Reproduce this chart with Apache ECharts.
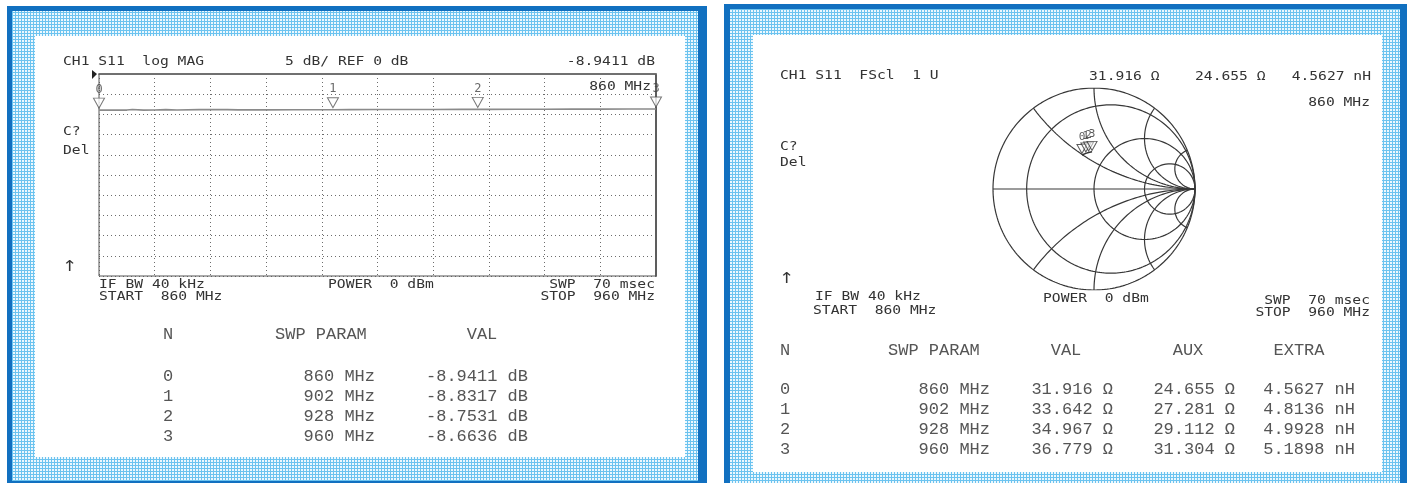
<!DOCTYPE html>
<html>
<head>
<meta charset="utf-8">
<script src="https://cdn.jsdelivr.net/npm/echarts@6/dist/echarts.min.js"></script>
<style>
html, body { margin: 0; padding: 0; background: #fff; }
#c { width: 1408px; height: 483px; }
</style>
</head>
<body>
<div id="c"></div>
<script>
// ---- measured data -------------------------------------------------------
// log MAG trace, S11 in dB across the sweep (MHz)
const traceFreq = [860, 865, 866, 868, 870, 872, 874, 878, 880, 883, 885, 890, 895, 900, 902, 905, 910, 915, 920, 925, 928, 930, 935, 940, 945, 950, 955, 960];
const traceDb   = [-8.9411, -8.93, -8.80, -8.93, -8.92, -8.82, -8.91, -8.82, -8.80, -8.82, -8.89, -8.87, -8.85, -8.84, -8.8317, -8.82, -8.80, -8.79, -8.78, -8.76, -8.7531, -8.75, -8.73, -8.72, -8.70, -8.69, -8.68, -8.6636];

// marker table
const markerNo   = ['0', '1', '2', '3'];
const markerFreq = [860, 902, 928, 960];          // MHz
const markerDb   = [-8.9411, -8.8317, -8.7531, -8.6636];
const markerR    = [31.916, 33.642, 34.967, 36.779]; // ohm
const markerX    = [24.655, 27.281, 29.112, 31.304]; // ohm
const markerL    = [4.5627, 4.8136, 4.9928, 5.1898]; // nH

// Smith chart graticule (normalised resistance circles / reactance arcs)
const smithR = [0.2, 1, 3];
const smithX = [0.5, 1, 2, 5];
const Z0 = 50;

// ---- helpers -------------------------------------------------------------
function gamma(r, x) {
  const d = (r + 1) * (r + 1) + x * x;
  return [(r * r + x * x - 1) / d, 2 * x / d];
}
function rCircle(r) {
  const c = r / (1 + r), a = 1 / (1 + r), pts = [];
  for (let i = 0; i <= 240; i++) {
    const t = i / 240 * Math.PI * 2;
    pts.push([c + a * Math.cos(t), a * Math.sin(t)]);
  }
  return pts;
}
function xArc(x) {
  const pts = [];
  for (let i = 0; i < 240; i++) {
    const phi = i / 240 * Math.PI / 2;
    pts.push(gamma(Math.tan(phi), x));
  }
  pts.push([1, 0]);
  return pts;
}
function makeDots() {
  const c = document.createElement('canvas');
  c.width = 3; c.height = 3;
  const g = c.getContext('2d');
  g.fillStyle = '#6cc3ef'; g.fillRect(0, 0, 3, 3);
  g.fillStyle = '#ecf8fe'; g.fillRect(1, 1, 2, 2);
  return c;
}
const dots = { image: makeDots(), repeat: 'repeat' };

const SCREEN_FONT = '12px "DejaVu Sans Mono"';
const TABLE_FONT = '17px "Liberation Mono"';
const ARROW_FONT = '15px "DejaVu Sans"';
function scr(text, x, y, align, font) {
  return { type: 'text', x: x, y: y, scaleX: 1.22, z: 20, silent: true,
    style: { text: text, font: font || SCREEN_FONT, fill: '#333333', textAlign: align || 'left', textVerticalAlign: 'middle' } };
}
function tab(text, x, y, align) {
  return { type: 'text', x: x, y: y, z: 20, silent: true,
    style: { text: text, font: TABLE_FONT, fill: '#555555', textAlign: align || 'left', textVerticalAlign: 'middle' } };
}
function rect(x, y, w, h, fill, z) {
  return { type: 'rect', shape: { x: x, y: y, width: w, height: h }, style: { fill: fill }, z: z, silent: true };
}

// ---- graphic layer: frames, annotations and tables -------------------------
const graphics = [
  // left frame
  rect(7, 6, 700, 490, '#1170c0', -30),
  rect(12, 11, 686, 470, dots, -29),
  rect(35, 36, 650, 421, '#ffffff', -28),
  // right frame
  rect(724, 4, 683, 490, '#1170c0', -30),
  rect(730, 9, 670, 474, dots, -29),
  rect(753, 35, 629, 437, '#ffffff', -28),

  // log MAG screen texts
  scr('CH1 S11  log MAG', 63, 62),
  scr('5 dB/ REF 0 dB', 285, 62),
  scr(markerDb[0].toFixed(4) + ' dB', 655, 62, 'right'),
  scr(markerFreq[0] + ' MHz', 651, 87, 'right'),
  scr('C?', 63, 132),
  scr('Del', 63, 151),
  scr('\u2191', 62, 267, 'left', ARROW_FONT),
  scr('IF BW 40 kHz', 99, 285),
  scr('START  860 MHz', 99, 297),
  scr('POWER  0 dBm', 328, 285),
  scr('SWP  70 msec', 655, 285, 'right'),
  scr('STOP  960 MHz', 655, 297, 'right'),

  // Smith screen texts
  scr('CH1 S11  FScl  1 U', 780, 76),
  scr(markerR[0].toFixed(3) + ' \u03a9', 1089, 77),
  scr(markerX[0].toFixed(3) + ' \u03a9', 1195, 77),
  scr(markerL[0].toFixed(4) + ' nH', 1371, 77, 'right'),
  scr(markerFreq[0] + ' MHz', 1370, 103, 'right'),
  scr('C?', 780, 147),
  scr('Del', 780, 163),
  scr('\u2191', 779, 279, 'left', ARROW_FONT),
  scr('IF BW 40 kHz', 815, 297),
  scr('START  860 MHz', 813, 311),
  scr('POWER  0 dBm', 1043, 299),
  scr('SWP  70 msec', 1370, 301, 'right'),
  scr('STOP  960 MHz', 1370, 313, 'right'),

  // table headers
  tab('N', 163, 334),
  tab('SWP PARAM', 275, 334),
  tab('VAL', 482, 334, 'center'),
  tab('N', 780, 350),
  tab('SWP PARAM', 888, 350),
  tab('VAL', 1066, 350, 'center'),
  tab('AUX', 1188, 350, 'center'),
  tab('EXTRA', 1299, 350, 'center')
];
markerNo.forEach(function (n, i) {
  const yl = 376 + i * 20, yr = 389 + i * 20;
  graphics.push(
    tab(n, 163, yl),
    tab(markerFreq[i] + ' MHz', 375, yl, 'right'),
    tab(markerDb[i].toFixed(4) + ' dB', 528, yl, 'right'),
    tab(n, 780, yr),
    tab(markerFreq[i] + ' MHz', 990, yr, 'right'),
    tab(markerR[i].toFixed(3) + ' \u03a9', 1113, yr, 'right'),
    tab(markerX[i].toFixed(3) + ' \u03a9', 1235, yr, 'right'),
    tab(markerL[i].toFixed(4) + ' nH', 1355, yr, 'right')
  );
});

// ---- series ---------------------------------------------------------------
const TRI = 'path://M0,0L10,0L5,10Z';
const series = [];

// log MAG trace and markers
series.push({
  type: 'line', xAxisIndex: 0, yAxisIndex: 0, silent: true, showSymbol: false,
  lineStyle: { color: '#8a8a8a', width: 1.6 }, z: 5,
  data: traceFreq.map(function (f, i) { return [f, traceDb[i]]; })
});
series.push({
  type: 'scatter', xAxisIndex: 0, yAxisIndex: 0, silent: true, z: 6,
  symbol: TRI, symbolSize: [11, 10], symbolOffset: [0, -7],
  itemStyle: { color: '#ffffff', borderColor: '#555', borderWidth: 1 },
  label: { show: true, position: 'top', distance: 2, formatter: '{b}', color: '#444', fontFamily: 'DejaVu Sans Mono', fontSize: 12 },
  data: markerNo.map(function (n, i) { return { name: n, value: [markerFreq[i], markerDb[i]] }; })
});

// Smith graticule
const smithLine = { color: '#383838', width: 1.2 };
function smithSeries(pts) {
  return { type: 'line', xAxisIndex: 1, yAxisIndex: 1, silent: true, showSymbol: false,
    animation: false, lineStyle: smithLine, z: 3, data: pts };
}
series.push(smithSeries(rCircle(0)));
smithR.forEach(function (r) { series.push(smithSeries(rCircle(r))); });
series.push(smithSeries(xArc(0)));
smithX.forEach(function (x) {
  series.push(smithSeries(xArc(x)));
  series.push(smithSeries(xArc(-x)));
});

// Smith trace and markers from measured impedance
const gPts = markerR.map(function (r, i) { return gamma(r / Z0, markerX[i] / Z0); });
series.push({
  type: 'line', xAxisIndex: 1, yAxisIndex: 1, silent: true, showSymbol: false, z: 5,
  lineStyle: { color: '#333', width: 1.5 }, data: gPts
});
series.push({
  type: 'scatter', xAxisIndex: 1, yAxisIndex: 1, silent: true, z: 6,
  symbol: TRI, symbolSize: [10, 9], symbolOffset: [0, -6],
  itemStyle: { color: 'rgba(255,255,255,0.6)', borderColor: '#333', borderWidth: 1 },
  label: { show: true, position: 'top', distance: 1, formatter: '{b}', color: '#333', fontFamily: 'DejaVu Sans Mono', fontSize: 11 },
  data: markerNo.map(function (n, i) { return { name: n, value: gPts[i] }; })
});

const dotted = { color: '#6c6c6c', width: 1, type: [1, 3] };
const chart = echarts.init(document.getElementById('c'), null, { renderer: 'canvas' });
chart.setOption({
  animation: false,
  backgroundColor: '#ffffff',
  grid: [
    { left: 99, top: 74, width: 557, height: 202, show: true, borderColor: '#555', borderWidth: 1, backgroundColor: 'transparent', z: 4 },
    { left: 993, top: 88, width: 202, height: 202, show: false }
  ],
  xAxis: [
    { gridIndex: 0, type: 'value', min: 860, max: 960, interval: 10, z: 3,
      axisLabel: { show: false }, axisTick: { show: false },
      axisLine: { show: true, lineStyle: { color: '#8d8d8d', width: 2 } },
      splitLine: { show: true, lineStyle: dotted } },
    { gridIndex: 1, type: 'value', min: -1, max: 1, show: false, splitLine: { show: false } }
  ],
  yAxis: [
    { gridIndex: 0, type: 'value', min: -50, max: 0, interval: 5, position: 'right', z: 3,
      axisLabel: { show: false }, axisTick: { show: false },
      axisLine: { show: true, lineStyle: { color: '#666', width: 2 } },
      splitLine: { show: true, lineStyle: dotted } },
    { gridIndex: 1, type: 'value', min: -1, max: 1, show: false, splitLine: { show: false } }
  ],
  graphic: { elements: graphics },
  series: series
});

// reference-position pointer at the 0 dB level
const ref = chart.convertToPixel({ gridIndex: 0 }, [860, 0]);
chart.setOption({
  graphic: { elements: graphics.concat([{
    type: 'polygon', z: 20, silent: true,
    shape: { points: [[ref[0] - 7, ref[1] - 4], [ref[0] - 2, ref[1]], [ref[0] - 7, ref[1] + 5]] },
    style: { fill: '#222' }
  }]) }
}, { replaceMerge: ['graphic'] });
</script>
</body>
</html>
